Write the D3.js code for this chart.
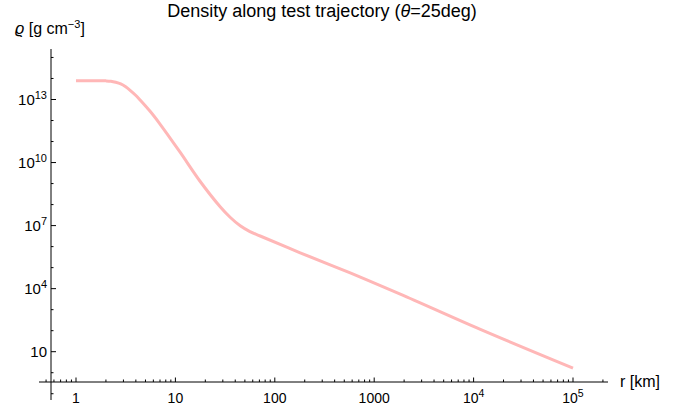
<!DOCTYPE html>
<html><head><meta charset="utf-8">
<script src="https://cdn.jsdelivr.net/npm/d3@7"></script>
<style>
body{margin:0;background:#fff;}
text{font-family:"Liberation Sans",Arial,Helvetica,sans-serif;fill:#000;}
</style></head>
<body>
<svg id="c" width="686" height="409"></svg>
<script>
// Data
const rKm = [1, 1.58, 2.0, 2.24, 2.51, 2.82, 3.16, 3.55, 3.98, 4.47, 5.62, 7.0, 11.1, 17.7, 28.2, 35.5, 44.9, 56.2, 71.3, 180, 574, 1830, 11700, 100000];
const rho = [7.8e13, 7.8e13, 7.7e13, 7.4e13, 6.6e13, 5.5e13, 4.0e13, 2.6e13, 1.6e13, 8.9e12, 2.6e12, 6.8e11, 3.2e10, 1.29e9, 7.9e7, 2.5e7, 9.8e6, 5.2e6, 3.2e6, 5.1e5, 5.6e4, 5.5e3, 115, 1.65];
const xMajor = [1, 10, 100, 1000, 1e4, 1e5];
const xMajorLabels = [["1",""],["10",""],["100",""],["1000",""],["10","4"],["10","5"]];
const yMajor = [10, 1e4, 1e7, 1e10, 1e13];
const yMajorLabels = [["10",""],["10","4"],["10","7"],["10","10"],["10","13"]];
const title = "Density along test trajectory (";
const titleTheta = "θ";
const titleEnd = "=25deg)";

const svg = d3.select("#c");
const x = d3.scaleLog().domain([1, 1e5]).range([76, 573]);
const y = d3.scaleLog().domain([10, 1e13]).range([351.7, 99.5]);
const axisY = 382, axisX = 51;
const xAxisRange = [39, 608], yAxisRange = [49, 400];

// X axis
const gx = svg.append("g");
gx.append("line").attr("x1", xAxisRange[0]).attr("x2", xAxisRange[1]).attr("y1", axisY).attr("y2", axisY)
  .attr("stroke", "#000").attr("stroke-width", 1);
const xMinor = [];
for (let e = -1; e <= 5; e++) for (let m = 1; m <= 9; m++) {
  const v = m * Math.pow(10, e);
  const px = x(v);
  if (px >= xAxisRange[0] && px <= xAxisRange[1] && !xMajor.includes(v)) xMinor.push(v);
}
gx.selectAll(".xmin").data(xMinor).enter().append("line")
  .attr("x1", d => x(d)).attr("x2", d => x(d)).attr("y1", axisY).attr("y2", axisY - 2.5)
  .attr("stroke", "#000").attr("stroke-width", 1);
gx.selectAll(".xmaj").data(xMajor).enter().append("line")
  .attr("x1", d => x(d)).attr("x2", d => x(d)).attr("y1", axisY).attr("y2", axisY - 4.5)
  .attr("stroke", "#000").attr("stroke-width", 1);
const xl = gx.selectAll(".xl").data(xMajor).enter().append("text")
  .attr("x", d => x(d)).attr("y", 403).attr("text-anchor", "middle").attr("font-size", 14);
xl.each(function(d, i) {
  const t = d3.select(this);
  t.append("tspan").text(xMajorLabels[i][0]);
  if (xMajorLabels[i][1]) t.append("tspan").attr("font-size", 10.5).attr("dy", -6).text(xMajorLabels[i][1]);
});
svg.append("text").attr("x", 620).attr("y", 387).attr("font-size", 16).text("r [km]");

// Y axis
const gy = svg.append("g");
gy.append("line").attr("x1", axisX).attr("x2", axisX).attr("y1", yAxisRange[0]).attr("y2", yAxisRange[1])
  .attr("stroke", "#000").attr("stroke-width", 1);
const yMinor = [];
for (let e = -1; e <= 15; e++) {
  const v = Math.pow(10, e);
  const py = y(v);
  if (py >= yAxisRange[0] && py <= yAxisRange[1] && !yMajor.includes(v)) yMinor.push(v);
}
gy.selectAll(".ymin").data(yMinor).enter().append("line")
  .attr("x1", axisX).attr("x2", axisX + 2.5).attr("y1", d => y(d)).attr("y2", d => y(d))
  .attr("stroke", "#000").attr("stroke-width", 1);
gy.selectAll(".ymaj").data(yMajor).enter().append("line")
  .attr("x1", axisX).attr("x2", axisX + 5).attr("y1", d => y(d)).attr("y2", d => y(d))
  .attr("stroke", "#000").attr("stroke-width", 1);
const yl = gy.selectAll(".yl").data(yMajor).enter().append("text")
  .attr("x", 47).attr("y", d => y(d) + 5).attr("text-anchor", "end").attr("font-size", 15);
yl.each(function(d, i) {
  const t = d3.select(this);
  t.append("tspan").text(yMajorLabels[i][0]);
  if (yMajorLabels[i][1]) t.append("tspan").attr("font-size", 11).attr("dy", -6).text(yMajorLabels[i][1]);
});
const ylab = svg.append("text").attr("x", 15).attr("y", 34).attr("font-size", 16);
ylab.append("tspan").attr("font-style", "italic").text("ϱ");
ylab.append("tspan").text(" [g cm");
ylab.append("tspan").attr("font-size", 11).attr("dy", -6).text("−3");
ylab.append("tspan").attr("dy", 6).text("]");

// Title
const tt = svg.append("text").attr("x", 322).attr("y", 17).attr("text-anchor", "middle").attr("font-size", 18);
tt.append("tspan").text(title);
tt.append("tspan").attr("font-style", "italic").text(titleTheta);
tt.append("tspan").text(titleEnd);

// Curve
const pts = rKm.map((r, i) => [r, rho[i]]);
const line = d3.line().x(d => x(d[0])).y(d => y(d[1])).curve(d3.curveCatmullRom.alpha(0.5));
svg.append("path").attr("d", line(pts)).attr("fill", "none")
  .attr("stroke", "#ffb7b7").attr("stroke-width", 3).attr("stroke-linecap", "butt");
</script>
</body></html>
